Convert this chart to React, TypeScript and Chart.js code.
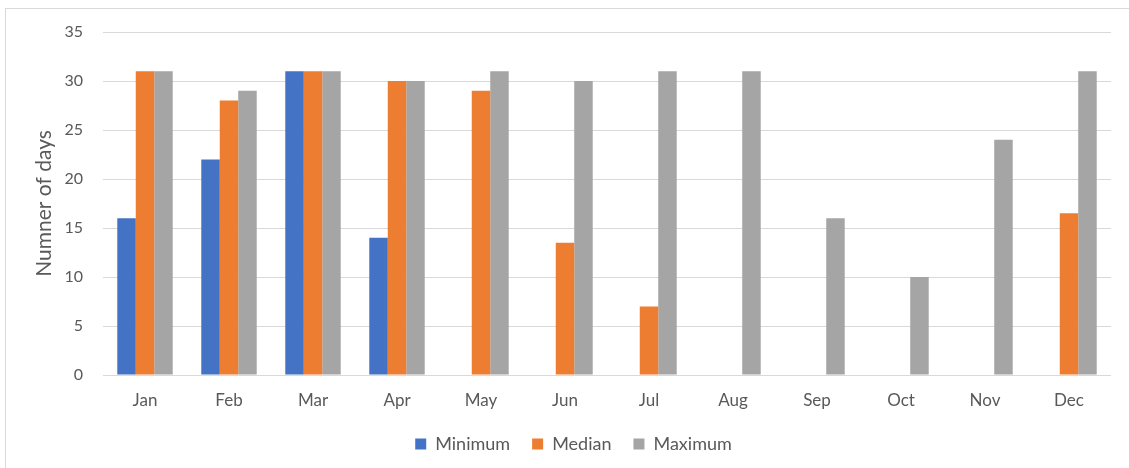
import { useEffect, useRef } from "react";
import { Chart, registerables } from "chart.js";

Chart.register(...registerables);

// Days per month for each statistic
const months = ["Jan", "Feb", "Mar", "Apr", "May", "Jun", "Jul", "Aug", "Sep", "Oct", "Nov", "Dec"];
const minimumDays = [16, 22, 31, 14, 0, 0, 0, 0, 0, 0, 0, 0];
const medianDays = [31, 28, 31, 30, 29, 13.5, 7, 0, 0, 0, 0, 16.5];
const maximumDays = [31, 29, 31, 30, 31, 30, 31, 31, 16, 10, 24, 31];

const yMin = 0;
const yMax = 35;
const yStep = 5;

const TEXT = "#595959";
const GRID = "#D9D9D9";
const FONT = "Lato, 'Open Sans', sans-serif";

// Nudges the bottom legend to the right so it sits under the centre of the whole frame
const legendShift = {
  id: "legendShift",
  afterLayout(chart: any) {
    const lg = chart.legend;
    if (lg) {
      lg.left += 18;
      lg.right += 18;
    }
  },
};

export default function App() {
  const canvasRef = useRef<HTMLCanvasElement | null>(null);

  useEffect(() => {
    const canvas = canvasRef.current;
    if (!canvas) return;
    const chart = new Chart(canvas, {
      type: "bar",
      data: {
        labels: months,
        datasets: [
          { label: "Minimum", data: minimumDays, backgroundColor: "#4472C4", borderWidth: 0 },
          { label: "Median", data: medianDays, backgroundColor: "#ED7D31", borderWidth: 0 },
          { label: "Maximum", data: maximumDays, backgroundColor: "#A5A5A5", borderWidth: 0 },
        ],
      },
      options: {
        animation: false,
        responsive: false,
        maintainAspectRatio: false,
        devicePixelRatio: 1,
        datasets: {
          bar: { categoryPercentage: 0.66, barPercentage: 1.0 },
        },
        layout: { padding: { top: 32, left: 0, right: 18, bottom: 0 } },
        plugins: {
          tooltip: { enabled: false },
          legend: {
            position: "bottom",
            labels: {
              boxWidth: 11,
              boxHeight: 11,
              padding: 22,
              color: TEXT,
              font: { family: FONT, size: 18 },
            },
          },
        },
        scales: {
          x: {
            grid: { display: false, drawTicks: false },
            border: { display: false },
            ticks: { color: TEXT, font: { family: FONT, size: 17 }, padding: 15 },
            afterFit: (s: any) => {
              s.height = 38;
            },
          },
          y: {
            min: yMin,
            max: yMax,
            ticks: { stepSize: yStep, color: TEXT, font: { family: FONT, size: 16 }, padding: 20 },
            grid: { color: GRID, lineWidth: 1, drawTicks: false },
            border: { display: false },
            title: {
              display: true,
              text: "Numner of days",
              color: TEXT,
              font: { family: FONT, size: 21 },
              padding: { top: 32, bottom: 0 },
            },
            afterFit: (s: any) => {
              s.width = 103;
            },
          },
        },
      },
      plugins: [legendShift],
    });
    return () => chart.destroy();
  }, []);

  return (
    <div
      style={{
        position: "absolute",
        left: 0,
        top: 0,
        width: 1129,
        height: 468,
        overflow: "hidden",
        background: "#fff",
      }}
    >
      <div
        style={{
          position: "absolute",
          left: 5,
          top: 8,
          width: 1200,
          height: 520,
          border: `1px solid ${GRID}`,
        }}
      />
      <canvas
        ref={canvasRef}
        width={1129}
        height={463}
        style={{ position: "absolute", left: 0, top: 0, width: 1129, height: 463, display: "block" }}
      />
    </div>
  );
}
